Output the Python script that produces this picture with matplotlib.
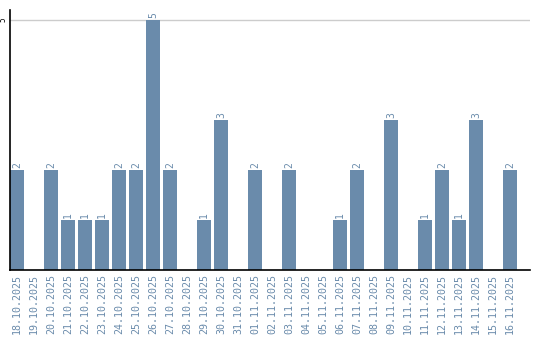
import numpy as np
import matplotlib
matplotlib.use("Agg")
import matplotlib.pyplot as plt

dates = ["18.10.2025", "19.10.2025", "20.10.2025", "21.10.2025", "22.10.2025",
         "23.10.2025", "24.10.2025", "25.10.2025", "26.10.2025", "27.10.2025",
         "28.10.2025", "29.10.2025", "30.10.2025", "31.10.2025", "01.11.2025",
         "02.11.2025", "03.11.2025", "04.11.2025", "05.11.2025", "06.11.2025",
         "07.11.2025", "08.11.2025", "09.11.2025", "10.11.2025", "11.11.2025",
         "12.11.2025", "13.11.2025", "14.11.2025", "15.11.2025", "16.11.2025"]
counts = [2, 0, 2, 1, 1, 1, 2, 2, 5, 2,
          0, 1, 3, 0, 2, 0, 2, 0, 0, 1,
          2, 0, 3, 0, 1, 2, 1, 3, 0, 2]

bar_color = '#6a8bab'
fig = plt.figure(figsize=(5.4, 3.4), dpi=100)
ax = fig.add_axes([10/540, 70/340, 520/540, 260/340])

x = np.arange(len(dates))
w = 14/17
ax.bar(x, counts, width=w, align='edge', color=bar_color, zorder=2)
for xi, c in zip(x, counts):
    if c > 0:
        ax.text(xi + w/2, c + 0.05, str(c), rotation=90, ha='center', va='bottom',
                color=bar_color, fontsize=7, family='DejaVu Sans Mono')

ax.set_xlim(0, 520/17)
ax.set_ylim(0, 5.2)
ax.set_xticks(x + w/2)
ax.set_xticklabels(dates, rotation=90, color=bar_color, fontsize=7.2, family='DejaVu Sans Mono')
ax.set_yticks([5])
ax.set_yticklabels(['5'], rotation=90, fontsize=5.5, va='center', family='DejaVu Sans Mono')
ax.tick_params(axis='both', length=0, pad=3)
ax.tick_params(axis='y', pad=1.5)
ax.grid(axis='y', color='#cccccc', linewidth=1, zorder=0)
for s in ['top', 'right']:
    ax.spines[s].set_visible(False)
ax.spines['left'].set_linewidth(1.2)
ax.spines['bottom'].set_linewidth(1.2)

fig.savefig("out.png", dpi=100)
